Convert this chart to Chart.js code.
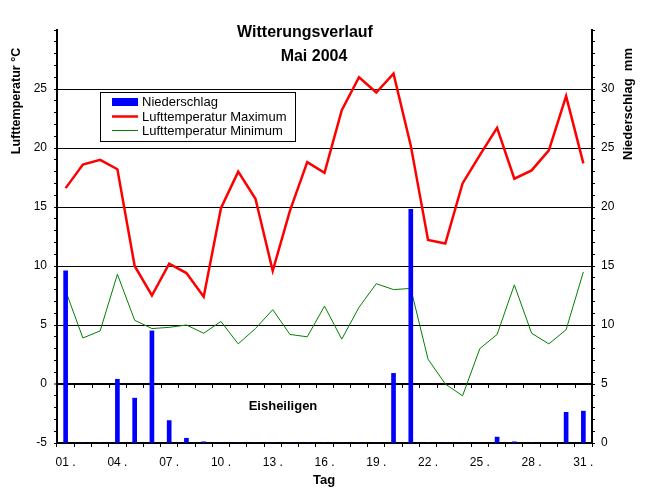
<!DOCTYPE html>
<html lang="de">
<head>
    <meta charset="UTF-8">
    <title>Witterungsverlauf Mai 2004</title>
    <script src="https://cdn.jsdelivr.net/npm/chart.js"></script>
    <style>
        html, body {
            margin: 0;
            padding: 0;
            background: #fff;
        }
        .chart-container {
            width: 645px;
            height: 491px;
        }
    </style>
</head>
<body>
    <div class="chart-container">
        <canvas id="wetterChart"></canvas>
    </div>

    <script>
        // Tage im Mai 2004
        const tage = ['01', '02', '03', '04', '05', '06', '07', '08', '09', '10',
                      '11', '12', '13', '14', '15', '16', '17', '18', '19', '20',
                      '21', '22', '23', '24', '25', '26', '27', '28', '29', '30', '31'];

        // Lufttemperatur Maximum (°C)
        const tempMax = [16.6, 18.6, 19.0, 18.2, 10.0, 7.5, 10.2, 9.4, 7.4, 14.9,
                         18.0, 15.7, 9.6, 14.7, 18.8, 17.9, 23.2, 26.0, 24.7, 26.3,
                         20.2, 12.2, 11.9, 17.0, 19.4, 21.7, 17.4, 18.1, 19.8, 24.4, 18.7];

        // Lufttemperatur Minimum (°C)
        const tempMin = [7.9, 3.9, 4.5, 9.3, 5.4, 4.7, 4.8, 5.0, 4.3, 5.3,
                         3.4, 4.7, 6.3, 4.2, 4.0, 6.6, 3.8, 6.5, 8.5, 8.0,
                         8.1, 2.1, 0.0, -1.0, 3.0, 4.2, 8.4, 4.3, 3.4, 4.6, 9.5];

        // Niederschlag (mm)
        const niederschlag = [14.6, 0, 0, 5.4, 3.8, 9.5, 1.9, 0.4, 0.1, 0,
                              0, 0, 0, 0, 0, 0, 0, 0, 0, 5.9,
                              19.8, 0, 0, 0, 0, 0.5, 0.1, 0, 0, 2.6, 2.7];

        const FONT = "Arial, 'Liberation Sans', sans-serif";

        // Titel, Achsentitel, Legende, Eisheiligen
        const beschriftung = {
            id: 'beschriftung',
            afterDraw(chart) {
                const ctx = chart.ctx;
                const x = chart.scales.x;
                const y = chart.scales.y;
                ctx.save();

                // kleine Striche unter der 0-Linie
                const band = x.getPixelForValue(1) - x.getPixelForValue(0);
                const y0 = Math.round(y.getPixelForValue(0));
                ctx.strokeStyle = '#000';
                ctx.lineWidth = 1;
                ctx.beginPath();
                for (let i = 0; i <= tage.length; i++) {
                    const px = Math.round(x.getPixelForValue(i) - band / 2) + 0.5;
                    ctx.moveTo(px, y0);
                    ctx.lineTo(px, y0 + 4);
                }
                ctx.stroke();

                ctx.fillStyle = '#000';
                ctx.textAlign = 'center';
                ctx.textBaseline = 'alphabetic';
                ctx.font = 'bold 16px ' + FONT;
                ctx.fillText('Witterungsverlauf', 305, 37);
                ctx.fillText('Mai 2004', 314, 61);

                ctx.font = 'bold 13px ' + FONT;
                ctx.fillText('Eisheiligen', 283, 410);
                ctx.fillText('Tag', 324, 484);

                // Achsentitel
                ctx.font = 'bold 12.5px ' + FONT;
                ctx.textBaseline = 'middle';
                ctx.save();
                ctx.translate(17, 101);
                ctx.rotate(-Math.PI / 2);
                ctx.fillText('Lufttemperatur °C', 0, 0);
                ctx.restore();

                ctx.font = 'bold 13px ' + FONT;
                ctx.save();
                ctx.translate(628, 104);
                ctx.rotate(-Math.PI / 2);
                ctx.fillText('Niederschlag  mm', 0, 0);
                ctx.restore();

                // Legende
                ctx.fillStyle = '#fff';
                ctx.fillRect(100, 92, 195, 49);
                ctx.strokeStyle = '#000';
                ctx.lineWidth = 1;
                ctx.strokeRect(100.5, 92.5, 195, 49);

                const ds = chart.data.datasets;
                ctx.font = '13px ' + FONT;
                ctx.textAlign = 'left';
                ctx.textBaseline = 'alphabetic';

                ctx.fillStyle = ds[0].backgroundColor;
                ctx.fillRect(112, 98, 26, 8);
                ctx.fillStyle = '#000';
                ctx.fillText(ds[0].label, 142, 106);

                ctx.strokeStyle = ds[1].borderColor;
                ctx.lineWidth = 2.5;
                ctx.beginPath();
                ctx.moveTo(112, 116.5);
                ctx.lineTo(138, 116.5);
                ctx.stroke();
                ctx.fillText(ds[1].label, 142, 121);

                ctx.strokeStyle = ds[2].borderColor;
                ctx.lineWidth = 1;
                ctx.beginPath();
                ctx.moveTo(112, 130.5);
                ctx.lineTo(138, 130.5);
                ctx.stroke();
                ctx.fillText(ds[2].label, 142, 135);

                ctx.restore();
            }
        };

        const ctx = document.getElementById('wetterChart').getContext('2d');
        new Chart(ctx, {
            type: 'line',
            data: {
                labels: tage,
                datasets: [
                    {
                        type: 'bar',
                        label: 'Niederschlag',
                        data: niederschlag,
                        yAxisID: 'y2',
                        backgroundColor: '#0000FF',
                        borderWidth: 0,
                        barThickness: 4,
                        order: 0
                    },
                    {
                        label: 'Lufttemperatur Maximum',
                        data: tempMax,
                        yAxisID: 'y',
                        borderColor: '#FF0000',
                        backgroundColor: '#FF0000',
                        borderWidth: 2.5,
                        pointRadius: 0,
                        tension: 0,
                        fill: false,
                        order: 1
                    },
                    {
                        label: 'Lufttemperatur Minimum',
                        data: tempMin,
                        yAxisID: 'y',
                        borderColor: '#008000',
                        backgroundColor: '#008000',
                        borderWidth: 1,
                        pointRadius: 0,
                        tension: 0,
                        fill: false,
                        order: 2
                    }
                ]
            },
            options: {
                responsive: true,
                maintainAspectRatio: false,
                animation: false,
                layout: {
                    padding: { top: 30, left: 0, right: 0, bottom: 0 }
                },
                plugins: {
                    legend: { display: false },
                    title: { display: false },
                    tooltip: { enabled: false }
                },
                scales: {
                    x: {
                        type: 'category',
                        offset: true,
                        afterFit(scale) { scale.height = 48; },
                        border: { color: '#000', width: 2 },
                        grid: {
                            offset: true,
                            drawOnChartArea: false,
                            tickColor: '#000',
                            tickLength: 4
                        },
                        ticks: {
                            autoSkip: false,
                            maxRotation: 0,
                            padding: 8,
                            color: '#000',
                            font: { family: FONT, size: 12 },
                            callback: function (value, index) {
                                return index % 3 === 0 ? tage[index] + ' .' : '';
                            }
                        }
                    },
                    y: {
                        position: 'left',
                        min: -5,
                        max: 30,
                        afterFit(scale) { scale.width = 57; },
                        border: { color: '#000', width: 2 },
                        grid: {
                            color: c => (c.tick && c.tick.value % 5 === 0 && c.tick.value > -5 && c.tick.value < 30) ? '#000' : 'rgba(0,0,0,0)',
                            lineWidth: c => (c.tick && c.tick.value === 0) ? 2 : 1,
                            tickColor: '#000',
                            tickWidth: 1,
                            tickLength: 3
                        },
                        ticks: {
                            stepSize: 1,
                            autoSkip: false,
                            padding: 7,
                            color: '#000',
                            font: { family: FONT, size: 12 },
                            callback: v => (v % 5 === 0 && v < 30) ? String(v) : ''
                        }
                    },
                    y2: {
                        position: 'right',
                        min: 0,
                        max: 35,
                        afterFit(scale) { scale.width = 53; },
                        border: { color: '#000', width: 2 },
                        grid: {
                            drawOnChartArea: false,
                            tickColor: '#000',
                            tickLength: 3
                        },
                        ticks: {
                            stepSize: 1,
                            autoSkip: false,
                            padding: 6,
                            color: '#000',
                            font: { family: FONT, size: 12 },
                            callback: v => (v % 5 === 0 && v < 35) ? String(v) : ''
                        }
                    }
                }
            },
            plugins: [beschriftung]
        });
    </script>
</body>
</html>
